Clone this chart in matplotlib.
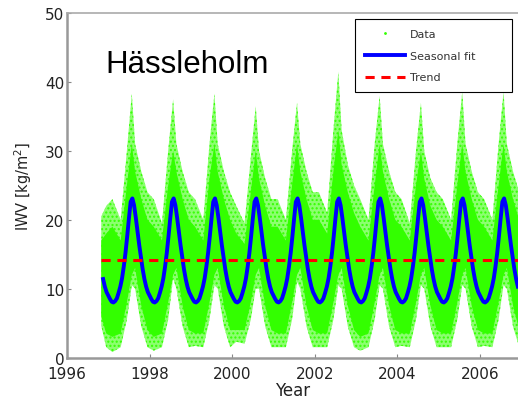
import numpy as np
import matplotlib
matplotlib.use("Agg")
from matplotlib import pyplot as plt

plt.rcParams['font.family'] = ['DejaVu Sans']

# envelope of the daily IWV cloud, read at fixed points in each year
years = list(range(1997, 2007))
offsets = [0.10, 0.30, 0.45, 0.57, 0.65, 0.80, 0.95]
start_t = [1996.83, 1996.95]
end_t = [2006.92]

upper_outer = [20.5, 22,
               23, 20, 30, 38.3, 31, 27, 24,
               23, 19.5, 30, 37.5, 31, 27, 24,
               23, 20, 31, 38.3, 31, 27, 24,
               22, 19.5, 29, 36.5, 30, 26, 23,
               23, 20, 30, 37.0, 31, 27, 24,
               24, 21, 33, 41.5, 33, 28, 25,
               23, 20, 31, 38.0, 31, 27, 24,
               23, 19.5, 30, 37.0, 30, 26, 24,
               23, 20, 31, 38.6, 31, 27, 24,
               23, 20, 31, 38.6, 31, 27, 24,
               24]
upper_inner = [17, 18,
               19, 17, 25, 31, 27, 23, 20,
               19, 17, 25, 30, 27, 23, 20,
               19, 17, 26, 31, 27, 23, 20,
               18, 16.5, 24, 30, 26, 22, 19,
               19, 17, 25, 31, 27, 23, 20,
               20, 18, 27, 33, 28, 24, 21,
               19, 17, 25, 31, 27, 23, 20,
               19, 17, 25, 30, 26, 22, 20,
               19, 17, 25, 31, 27, 23, 20,
               19, 17, 25, 31, 27, 23, 20,
               20]
lower_inner = [6, 3.5,
               3.0, 3.5, 8, 12, 13, 7.5, 4,
               3.0, 3.5, 8, 12, 13, 7.5, 4,
               3.5, 3.5, 8, 12, 13, 7.5, 4,
               4.0, 4.0, 8, 12, 13, 7.5, 4,
               3.5, 3.5, 8, 12, 13, 7.5, 4,
               3.5, 3.5, 8, 12, 13, 7.5, 4,
               3.0, 3.5, 8, 12, 13, 7.5, 4,
               3.5, 3.5, 8, 12, 13, 7.5, 4,
               3.5, 3.5, 8, 12, 13, 7.5, 4,
               3.5, 3.5, 8, 12, 13, 7.5, 4,
               6]
lower_outer = [4.6, 1.5,
               0.8, 1.5, 5.5, 10.5, 10, 4.5, 1.5,
               1.0, 1.5, 5.5, 11.5, 10, 4.5, 1.5,
               1.7, 1.5, 5.5, 10.5, 10, 4.5, 1.5,
               2.3, 2.0, 5.5, 10.0, 10, 4.5, 1.5,
               1.5, 1.5, 5.5, 11.0, 10, 4.5, 1.5,
               1.5, 1.5, 5.5, 10.5, 10, 4.5, 1.5,
               1.0, 1.5, 5.5, 10.5, 10, 4.5, 1.5,
               1.7, 1.5, 5.5, 10.5, 10, 4.5, 1.5,
               1.5, 1.5, 5.5, 10.5, 10, 4.5, 1.5,
               1.7, 1.5, 5.5, 10.5, 10, 4.5, 1.5,
               4]

# seasonal fit, one cycle at half-month steps (Jan 1 .. mid Dec)
fit_cycle = [9.0, 8.5, 8.1, 8.0, 8.2, 8.6, 9.4, 10.3, 11.5, 13.2, 15.2, 17.6,
             20.2, 22.6, 23.1, 22.1, 20.3, 18.3, 16.3, 14.5, 12.8, 11.4, 10.3, 9.5]
trend = 14.2

env_t = start_t + [y + o for y in years for o in offsets] + end_t

fit_t = np.arange(1996 * 24, 2007 * 24) / 24.0
fit_v = np.tile(fit_cycle, 11)
keep = (fit_t >= 1996.85) & (fit_t <= 2006.95)
fit_t, fit_v = fit_t[keep], fit_v[keep]

green = '#33ff00'

fig = plt.figure(figsize=(5.18, 4.02), dpi=100)
ax = fig.add_axes([0.1293, 0.108, 0.8707, 0.857])

ax.fill_between(env_t, lower_outer, upper_outer, facecolor='#8cff70', edgecolor='none')
ax.fill_between(env_t, lower_outer, upper_outer, facecolor='none', hatch='....',
                edgecolor=green, linewidth=0)
ax.fill_between(env_t, lower_inner, upper_inner, facecolor=green, edgecolor='none')
ax.plot([], [], '.', color=green, markersize=2, label='Data')
ax.plot(fit_t, fit_v, color='blue', lw=2.8, label='Seasonal fit')
ax.plot([1996.83, 2006.95], [trend, trend], color='red', lw=2.2, ls=(0, (3, 2.2)), label='Trend')

ax.set_xlim(1996, 2006.92)
ax.set_ylim(0, 50)
ax.set_xticks([1996, 1998, 2000, 2002, 2004, 2006])
ax.set_yticks([0, 10, 20, 30, 40, 50])
ax.tick_params(direction='in', length=3, color='#888888', labelsize=11, labelcolor='#222222', width=0.8)
ax.tick_params(axis='x', pad=6)
ax.tick_params(axis='y', pad=2)
for s in ['left', 'bottom']:
    ax.spines[s].set_color('#999999')
    ax.spines[s].set_linewidth(1.8)
ax.spines['top'].set_color('#aaaaaa')
ax.spines['top'].set_linewidth(1.2)
ax.spines['right'].set_visible(False)

ax.set_xlabel('Year', fontsize=12, color='#222222', labelpad=0)
ax.set_ylabel('IWV [kg/m$^2$]', fontsize=10.5, color='#222222', labelpad=8)

ax.text(1996.92, 42.6, 'Hässleholm', fontsize=22.5, va='center', ha='left',
        family='Liberation Sans')

leg = ax.legend(loc='upper left', bbox_to_anchor=(0.6386, 0.0, 0.348, 0.9826), mode='expand',
                fontsize=8, fancybox=False, framealpha=1, edgecolor='black', handlelength=3.6,
                borderpad=0.9, labelspacing=1.05, handletextpad=0.45, borderaxespad=0)
leg.get_frame().set_linewidth(0.8)
for t in leg.get_texts():
    t.set_color('#333333')

fig.savefig('out.png', dpi=100)
